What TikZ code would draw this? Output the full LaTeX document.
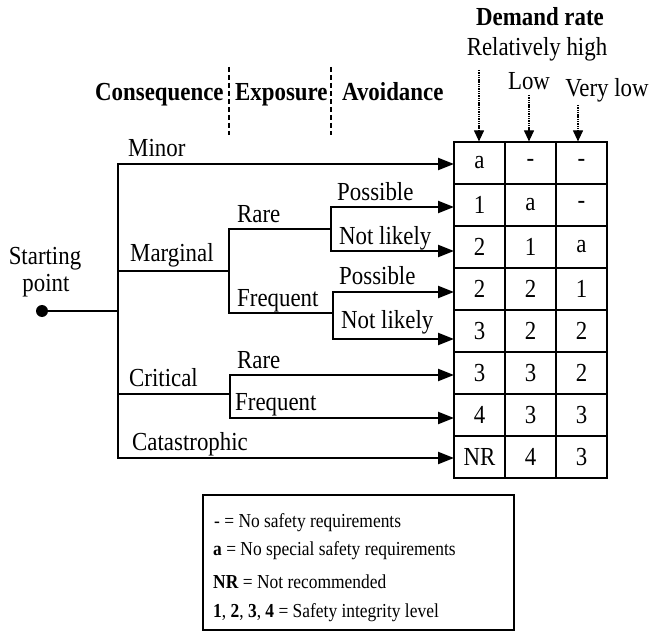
\documentclass[tikz,border=0pt]{standalone}
\usepackage{fontspec}
\setmainfont[FakeStretch=0.88]{Liberation Serif}
\usetikzlibrary{arrows.meta}
\begin{document}
\begin{tikzpicture}[x=1pt,y=-1pt,
  lbl/.style={anchor=base west, inner sep=0pt, font=\fontsize{26}{30}\selectfont},
  clbl/.style={anchor=base, inner sep=0pt, font=\fontsize{26}{30}\selectfont},
  hdr/.style={anchor=base west, inner sep=0pt, font=\fontsize{26}{30}\selectfont\bfseries},
  cell/.style={draw, line width=1.2pt, minimum width=51pt, minimum height=42pt, inner sep=0pt, font=\fontsize{26}{30}\selectfont},
  leg/.style={anchor=base west, inner sep=0pt, font=\fontsize{19.8}{23}\selectfont},
  tree/.style={line width=2.3pt, line cap=rect},
  arr/.style={line width=2.3pt, -{Triangle[length=16pt,width=12pt]}},
  darr/.style={line width=1.1pt, dash pattern=on 1.4pt off 0.9pt, -{Triangle[length=11pt,width=10pt]}},
  sep/.style={line width=1.1pt, dash pattern=on 5pt off 3pt}]
\useasboundingbox (0,0) rectangle (651,631);

% headers
\node[hdr] (hcons) at (95,101) {Consequence};
\node[hdr] (hexp) at (235,101) {Exposure};
\node[hdr] (havo) at (342,101) {Avoidance};
\coordinate (s1t) at (229,67); \coordinate (s1b) at (229,135);
\coordinate (s2t) at (331,67); \coordinate (s2b) at (331,135);
\draw[sep] (s1t) -- (s1b);
\draw[sep] (s2t) -- (s2b);

\node[anchor=base, inner sep=0pt, font=\fontsize{26}{30}\selectfont\bfseries] (hdem) at (540,26) {Demand rate};
\node[clbl] (hrel) at (537,56) {Relatively high};
\node[clbl] (hlow) at (529,90) {Low};
\node[clbl] (hvlow) at (607,97) {Very low};

% table
\foreach \r/\a/\b/\c in {0/a/-/-,1/1/a/-,2/2/1/a,3/2/2/1,4/3/2/2,5/3/3/2,6/4/3/3,7/NR/4/3}{
  \node[cell] (c\r0) at (479.5,163+42*\r) {\a};
  \node[cell] (c\r1) at (530.5,163+42*\r) {\b};
  \node[cell] (c\r2) at (581.5,163+42*\r) {\c};
}
\coordinate (d1) at (479,70);
\coordinate (d2) at (529,95);
\coordinate (d3) at (578,105);
\draw[darr] (d1) -- (c00.north -| d1);
\draw[darr] (d2) -- (c01.north -| d2);
\draw[darr] (d3) -- (c02.north -| d3);

% tree
\fill (42,311) circle (6pt) coordinate (start);
\coordinate (vmid) at (118,311);
\coordinate (vtop) at (118,164);
\coordinate (vbot) at (118,458);
\draw[tree] (start) -- (vmid);
\draw[tree] (vtop) -- (vbot);
\coordinate (e1) at (454,164);
\coordinate (e2) at (454,207);
\coordinate (e3) at (454,251);
\coordinate (e4) at (454,292);
\coordinate (e5) at (454,339);
\coordinate (e6) at (454,375);
\coordinate (e7) at (454,418);
\coordinate (e8) at (454,458);
\draw[arr] (vtop) -- (e1);
\draw[arr] (vbot) -- (e8);
% marginal
\coordinate (mg) at (118,271);
\coordinate (mgj) at (229,271);
\coordinate (mrt) at (229,229);
\coordinate (mfq) at (229,313);
\draw[tree] (mg) -- (mgj);
\draw[tree] (mrt) -- (mfq);
\coordinate (rj) at (331,229);
\coordinate (rjt) at (331,207);
\coordinate (rjb) at (331,251);
\draw[tree] (mrt) -- (rj);
\draw[tree] (rjt) -- (rjb);
\draw[arr] (rjt) -- (e2);
\draw[arr] (rjb) -- (e3);
\coordinate (fj) at (333,313);
\coordinate (fjt) at (333,292);
\coordinate (fjb) at (333,339);
\draw[tree] (mfq) -- (fj);
\draw[tree] (fjt) -- (fjb);
\draw[arr] (fjt) -- (e4);
\draw[arr] (fjb) -- (e5);
% critical
\coordinate (cr) at (118,394);
\coordinate (crj) at (230,394);
\coordinate (crt) at (230,375);
\coordinate (crb) at (230,418);
\draw[tree] (cr) -- (crj);
\draw[tree] (crt) -- (crb);
\draw[arr] (crt) -- (e6);
\draw[arr] (crb) -- (e7);

% labels
\node[clbl] (sp1) at (45,265) {Starting};
\node[clbl] (sp2) at (46,292) {point};
\node[lbl] (lminor) at (128,157) {Minor};
\node[lbl] (lmarg) at (130,262) {Marginal};
\node[lbl] (lrare1) at (237,223) {Rare};
\node[lbl] (lposs1) at (337,201) {Possible};
\node[lbl] (lnot1) at (339,245) {Not likely};
\node[lbl] (lfreq1) at (237,307) {Frequent};
\node[lbl] (lposs2) at (339,284) {Possible};
\node[lbl] (lnot2) at (341,328) {Not likely};
\node[lbl] (lcrit) at (129,386) {Critical};
\node[lbl] (lrare2) at (237,368) {Rare};
\node[lbl] (lfreq2) at (235,410) {Frequent};
\node[lbl] (lcat) at (132,450) {Catastrophic};

% legend
\node[draw, line width=1.5pt, minimum width=311pt, minimum height=135pt, anchor=north west, inner sep=0pt] (legend) at (202,494) {};
\node[leg] (lg1) at (214,527) {- = No safety requirements};
\node[leg] (lg2) at (213,555) {\textbf{a} = No special safety requirements};
\node[leg] (lg3) at (213,588) {\textbf{NR} = Not recommended};
\node[leg] (lg4) at (213,617) {\textbf{1}, \textbf{2}, \textbf{3}, \textbf{4} = Safety integrity level};
\end{tikzpicture}
\end{document}
